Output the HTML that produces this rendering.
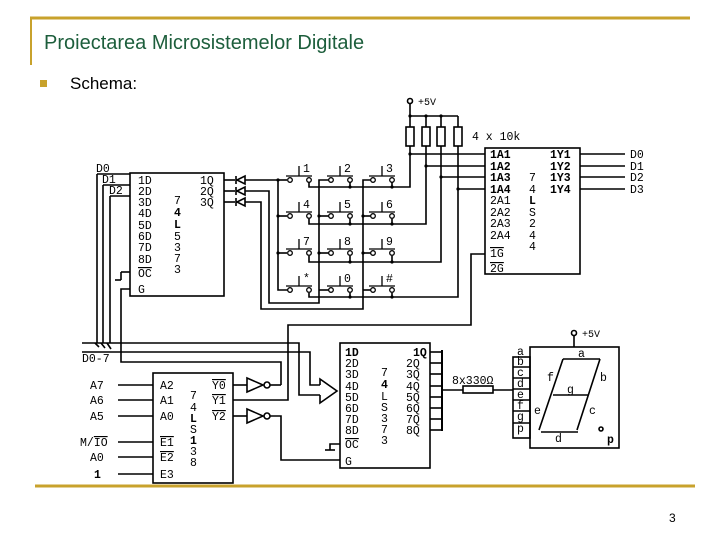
<!DOCTYPE html>
<html><head><meta charset="utf-8"><style>
html,body{margin:0;padding:0;background:#fff;}
svg{display:block;}
.m{font-family:"Liberation Mono","DejaVu Sans Mono",monospace;font-size:11.5px;fill:#000;}
.b{font-weight:bold;}
</style></head><body>
<svg width="720" height="540" viewBox="0 0 720 540" xmlns="http://www.w3.org/2000/svg">
<rect width="720" height="540" fill="#fff"/>
<line x1="30" y1="18" x2="690" y2="18" stroke="#c8a22c" stroke-width="3"/>
<line x1="31" y1="18" x2="31" y2="65" stroke="#c8a22c" stroke-width="2"/>
<line x1="35" y1="486" x2="695" y2="486" stroke="#c8a22c" stroke-width="3"/>
<text x="44" y="49" font-family="Liberation Sans,sans-serif" font-size="20" fill="#1d5e3c">Proiectarea Microsistemelor Digitale</text>
<rect x="40" y="80" width="7" height="7" fill="#c8a22c"/>
<text x="70" y="89" font-family="Liberation Sans,sans-serif" font-size="17" fill="#000">Schema:</text>
<text x="669" y="522" font-family="Liberation Sans,sans-serif" font-size="12" fill="#000">3</text>

<g stroke="#000" stroke-width="1.6" fill="none">
<rect x="130" y="173" width="94" height="123"/>
<polyline points="97,174 130,174"/><polyline points="97,174 97,343"/>
<polyline points="103,185 130,185"/><polyline points="103,185 103,343"/>
<polyline points="110,196 130,196"/><polyline points="110,196 110,343"/>
<polyline points="121,272 130,272"/><polyline points="121,272 121,280"/><polyline points="115,280 121,280"/>
<polyline points="130,289 121,289 121,362 281,362 281,385"/>
<line x1="224" y1="180" x2="235" y2="180"/><line x1="224" y1="191" x2="235" y2="191"/><line x1="224" y1="202" x2="235" y2="202"/>
<g>
<path d="M236 176 v8 M237 180 L245 176 V184 Z M245 180 H248"/>
<path d="M236 187 v8 M237 191 L245 187 V195 Z M245 191 H248"/>
<path d="M236 198 v8 M237 202 L245 198 V206 Z M245 202 H248"/>
</g>
<polyline points="248,180 278,180"/>
<polyline points="248,191 269,191 269,303 319,303 319,180 331,180"/>
<polyline points="248,202 261,202 261,309 363,309 363,180 373,180"/>
<polyline points="278,180 278,290 289,290"/>
<line x1="278" y1="180" x2="287" y2="180"/><line x1="278" y1="216" x2="287" y2="216"/><line x1="278" y1="253" x2="287" y2="253"/>
<line x1="319" y1="216" x2="329" y2="216"/><line x1="319" y1="253" x2="329" y2="253"/><line x1="319" y1="290" x2="329" y2="290"/>
<line x1="363" y1="216" x2="371" y2="216"/><line x1="363" y1="253" x2="371" y2="253"/><line x1="363" y1="290" x2="371" y2="290"/>
<polyline points="309,182 309,187 410,187 410,154"/>
<line x1="350" y1="182" x2="350" y2="187"/><line x1="392" y1="182" x2="392" y2="187"/>
<polyline points="309,219 309,224 426,224 426,166"/>
<line x1="350" y1="219" x2="350" y2="224"/><line x1="392" y1="219" x2="392" y2="224"/>
<polyline points="309,256 309,262 441,262 441,177"/>
<line x1="350" y1="256" x2="350" y2="262"/><line x1="392" y1="256" x2="392" y2="262"/>
<polyline points="309,293 309,297 458,297 458,189"/>
<line x1="350" y1="293" x2="350" y2="297"/><line x1="392" y1="293" x2="392" y2="297"/>
<line x1="410" y1="104" x2="410" y2="127"/>
<line x1="410" y1="116" x2="458" y2="116"/>
<line x1="426" y1="116" x2="426" y2="127"/><line x1="441" y1="116" x2="441" y2="127"/><line x1="458" y1="116" x2="458" y2="127"/>
<rect x="406" y="127" width="8" height="19"/><rect x="422" y="127" width="8" height="19"/><rect x="437" y="127" width="8" height="19"/><rect x="454" y="127" width="8" height="19"/>
<line x1="410" y1="146" x2="410" y2="154"/><line x1="426" y1="146" x2="426" y2="166"/><line x1="441" y1="146" x2="441" y2="177"/><line x1="458" y1="146" x2="458" y2="189"/>
<circle cx="410" cy="101" r="2.5"/>
<line x1="410" y1="154" x2="485" y2="154"/><line x1="426" y1="166" x2="485" y2="166"/><line x1="441" y1="177" x2="485" y2="177"/><line x1="458" y1="189" x2="485" y2="189"/>
<rect x="485" y="148" width="95" height="126"/>
<line x1="580" y1="154" x2="625" y2="154"/><line x1="580" y1="166" x2="625" y2="166"/><line x1="580" y1="177" x2="625" y2="177"/><line x1="580" y1="189" x2="625" y2="189"/>
<polyline points="485,254 471,254 471,325 288,325 288,400 233,400"/>
<polyline points="82,343 299,343 299,395 320,395"/>
<polyline points="82,352 310,352 310,385 320,385"/>
<path d="M320 385 V379 L337 391 L320 403 V395"/>
<line x1="95" y1="343" x2="99" y2="347"/><line x1="101" y1="343" x2="105" y2="348"/><line x1="107" y1="343" x2="111" y2="349"/>
<rect x="153" y="373" width="80" height="110"/>
<line x1="118" y1="385" x2="153" y2="385"/><line x1="118" y1="400" x2="153" y2="400"/><line x1="118" y1="416" x2="153" y2="416"/>
<line x1="118" y1="442" x2="153" y2="442"/><line x1="118" y1="457" x2="153" y2="457"/><line x1="118" y1="474" x2="153" y2="474"/>
<line x1="233" y1="385" x2="247" y2="385"/><path d="M247 378 L263 385 L247 392 Z"/><circle cx="267" cy="385" r="3"/><line x1="270" y1="385" x2="281" y2="385"/>
<line x1="233" y1="416" x2="247" y2="416"/><path d="M247 409 L263 416 L247 423 Z"/><circle cx="267" cy="416" r="3"/>
<polyline points="270,416 281,416 281,460 340,460"/>
<rect x="340" y="343" width="90" height="125"/>
<polyline points="340,444 330,444 330,450"/><line x1="325" y1="450" x2="335" y2="450"/>
<line x1="430" y1="352" x2="442" y2="352"/><line x1="430" y1="363" x2="442" y2="363"/><line x1="430" y1="374" x2="442" y2="374"/><line x1="430" y1="386" x2="442" y2="386"/>
<line x1="430" y1="397" x2="442" y2="397"/><line x1="430" y1="408" x2="442" y2="408"/><line x1="430" y1="419" x2="442" y2="419"/><line x1="430" y1="430" x2="442" y2="430"/>
<line x1="442" y1="350" x2="442" y2="431" stroke-width="2"/>
<line x1="442" y1="390" x2="463" y2="390"/><rect x="463" y="386" width="30" height="7"/><line x1="493" y1="390" x2="513" y2="390"/>
<rect x="513" y="357" width="17" height="81"/>
<line x1="513" y1="367" x2="530" y2="367"/><line x1="513" y1="378" x2="530" y2="378"/><line x1="513" y1="389" x2="530" y2="389"/><line x1="513" y1="400" x2="530" y2="400"/><line x1="513" y1="411" x2="530" y2="411"/><line x1="513" y1="423" x2="530" y2="423"/>
<rect x="530" y="347" width="89" height="101"/>
<circle cx="574" cy="333" r="2.5"/><line x1="574" y1="336" x2="574" y2="347"/>
<path d="M563 359 H600 M553 395 H588 M541 432 H578 M563 359 L539 430 M600 359 L577 430"/>
<circle cx="601" cy="429" r="2"/>
</g>
<g fill="#000">
<circle cx="278" cy="216" r="1.6"/><circle cx="278" cy="253" r="1.6"/><circle cx="278" cy="180" r="1.6"/>
<circle cx="319" cy="216" r="1.6"/><circle cx="319" cy="253" r="1.6"/>
<circle cx="363" cy="216" r="1.6"/><circle cx="363" cy="253" r="1.6"/>
<circle cx="350" cy="187" r="1.6"/><circle cx="392" cy="187" r="1.6"/><circle cx="350" cy="224" r="1.6"/><circle cx="392" cy="224" r="1.6"/>
<circle cx="350" cy="262" r="1.6"/><circle cx="392" cy="262" r="1.6"/><circle cx="350" cy="297" r="1.6"/><circle cx="392" cy="297" r="1.6"/>
<circle cx="410" cy="116" r="1.6"/><circle cx="426" cy="116" r="1.6"/><circle cx="441" cy="116" r="1.6"/>
<circle cx="410" cy="154" r="1.6"/><circle cx="426" cy="166" r="1.6"/><circle cx="441" cy="177" r="1.6"/><circle cx="458" cy="189" r="1.6"/>
</g>
<g stroke="#000" stroke-width="1.3" fill="#fff">
<g id="sw"><circle cx="290" cy="180" r="2.3"/><circle cx="309" cy="180" r="2.3"/><path d="M286 176 H312 M299 176 V166" fill="none"/></g>
<use href="#sw" x="41"/><use href="#sw" x="83"/>
<use href="#sw" y="36"/><use href="#sw" x="41" y="36"/><use href="#sw" x="83" y="36"/>
<use href="#sw" y="73"/><use href="#sw" x="41" y="73"/><use href="#sw" x="83" y="73"/>
<use href="#sw" y="110"/><use href="#sw" x="41" y="110"/><use href="#sw" x="83" y="110"/>
</g>
<g class="m">
<text x="303" y="172">1</text><text x="344" y="172">2</text><text x="386" y="172">3</text>
<text x="303" y="208">4</text><text x="344" y="208">5</text><text x="386" y="208">6</text>
<text x="303" y="245">7</text><text x="344" y="245">8</text><text x="386" y="245">9</text>
<text x="303" y="282">*</text><text x="344" y="282">0</text><text x="386" y="282">#</text>
<text x="96" y="172">D0</text><text x="102" y="183">D1</text><text x="109" y="194">D2</text>
<text x="138" y="184">1D</text><text x="138" y="195">2D</text><text x="138" y="206">3D</text><text x="138" y="217">4D</text><text x="138" y="229">5D</text><text x="138" y="240">6D</text><text x="138" y="251">7D</text><text x="138" y="263">8D</text>
<text x="138" y="277" text-decoration="overline">OC</text><text x="138" y="293">G</text>
<text x="200" y="184">1Q</text><text x="200" y="195">2Q</text><text x="200" y="206">3Q</text>
<text x="174" y="204">7</text><text x="174" y="216" class="b">4</text><text x="174" y="228" class="b">L</text><text x="174" y="240">5</text><text x="174" y="251">3</text><text x="174" y="262">7</text><text x="174" y="273">3</text>
<text x="418" y="105" font-size="10">+5V</text>
<text x="472" y="140">4 x 10k</text>
<g class="b"><text x="490" y="158">1A1</text><text x="490" y="170">1A2</text><text x="490" y="181">1A3</text><text x="490" y="193">1A4</text>
<text x="550" y="158">1Y1</text><text x="550" y="170">1Y2</text><text x="550" y="181">1Y3</text><text x="550" y="193">1Y4</text></g>
<text x="490" y="204">2A1</text><text x="490" y="216">2A2</text><text x="490" y="227">2A3</text><text x="490" y="239">2A4</text>
<text x="490" y="257" text-decoration="overline">1G</text><text x="490" y="272" text-decoration="overline">2G</text>
<text x="529" y="181">7</text><text x="529" y="193">4</text><text x="529" y="204" class="b">L</text><text x="529" y="216">S</text><text x="529" y="227">2</text><text x="529" y="239">4</text><text x="529" y="250">4</text>
<text x="630" y="158">D0</text><text x="630" y="170">D1</text><text x="630" y="181">D2</text><text x="630" y="193">D3</text>
<text x="82" y="362">D0-7</text>
<text x="90" y="389">A7</text><text x="90" y="404">A6</text><text x="90" y="420">A5</text><text x="80" y="446">M/<tspan text-decoration="overline">IO</tspan></text><text x="90" y="461">A0</text><text x="94" y="478" class="b">1</text>
<text x="160" y="389">A2</text><text x="160" y="404">A1</text><text x="160" y="420">A0</text>
<text x="160" y="446" text-decoration="overline">E1</text><text x="160" y="461" text-decoration="overline">E2</text><text x="160" y="478">E3</text>
<text x="212" y="389" text-decoration="overline">Y0</text><text x="212" y="404" text-decoration="overline">Y1</text><text x="212" y="420" text-decoration="overline">Y2</text>
<text x="190" y="399">7</text><text x="190" y="411">4</text><text x="190" y="422" class="b">L</text><text x="190" y="433">S</text><text x="190" y="444" class="b">1</text><text x="190" y="455">3</text><text x="190" y="466">8</text>
<g class="b"><text x="345" y="356">1D</text><text x="413" y="356">1Q</text></g>
<text x="345" y="367">2D</text><text x="345" y="378">3D</text><text x="345" y="390">4D</text><text x="345" y="401">5D</text><text x="345" y="412">6D</text><text x="345" y="423">7D</text><text x="345" y="434">8D</text>
<text x="345" y="448" text-decoration="overline">OC</text><text x="345" y="465">G</text>
<text x="406" y="367">2Q</text><text x="406" y="378">3Q</text><text x="406" y="390">4Q</text><text x="406" y="401">5Q</text><text x="406" y="412">6Q</text><text x="406" y="423">7Q</text><text x="406" y="434">8Q</text>
<text x="381" y="376">7</text><text x="381" y="388" class="b">4</text><text x="381" y="400">L</text><text x="381" y="411">S</text><text x="381" y="422">3</text><text x="381" y="433">7</text><text x="381" y="444">3</text>
<text x="452" y="384">8x330Ω</text>
<text x="582" y="337" font-size="10">+5V</text>
<text x="517" y="355">a</text><text x="517" y="365">b</text><text x="517" y="376">c</text><text x="517" y="387">d</text><text x="517" y="398">e</text><text x="517" y="409">f</text><text x="517" y="420">g</text><text x="517" y="432">p</text>
<text x="578" y="357">a</text><text x="600" y="381">b</text><text x="547" y="381">f</text><text x="567" y="393">g</text><text x="534" y="414">e</text><text x="589" y="414">c</text><text x="555" y="442">d</text><text x="607" y="443" class="b">p</text>
</g>
</svg>
</body></html>
